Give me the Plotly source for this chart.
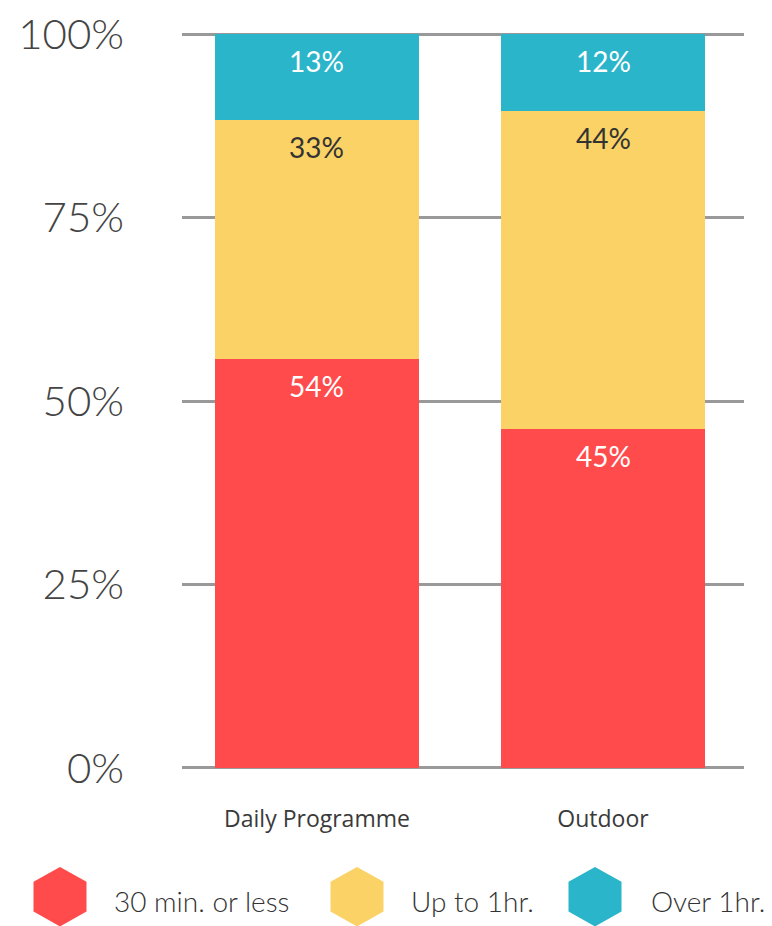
import numpy as np
import plotly.graph_objects as go

categories = ["Daily Programme", "Outdoor"]
series_names = ["30 min. or less", "Up to 1hr.", "Over 1hr."]
# bar heights (share of 100%)
short_vals = [55.7, 46.2]
mid_vals = [32.6, 43.3]
long_vals = [11.7, 10.5]
# printed labels
short_labels = ["54%", "45%"]
mid_labels = ["33%", "44%"]
long_labels = ["13%", "12%"]
y_ticks = [0, 25, 50, 75, 100]
y_tick_text = ["0%", "25%", "50%", "75%", "100%"]

colors = ["#FF4B4B", "#FAD266", "#2AB5CA"]
text_colors = ["#FFFFFF", "#333333", "#FFFFFF"]
FONT = "Lato, 'Open Sans', sans-serif"
CAT_FONT = "'Open Sans', Lato, sans-serif"

values = [short_vals, mid_vals, long_vals]
labels = [short_labels, mid_labels, long_labels]

OFF = 8  # page body margin
W, H = 772 - OFF, 926 - OFF
PAD = 0.3
px_per_unit = (768 - 34) / 100.0
plot_l = 182 - OFF
plot_r = 744 - OFF
plot_t = 34 - OFF - PAD * px_per_unit
plot_b = 768 - OFF + PAD * px_per_unit
pw, ph = plot_r - plot_l, plot_b - plot_t

fig = go.Figure()
for name, vals, col in zip(series_names, values, colors):
    fig.add_trace(go.Bar(
        x=categories, y=vals, name=name, marker=dict(color=col, line=dict(width=0)),
        width=0.713, showlegend=False, hoverinfo="skip",
    ))

tops = np.cumsum(np.array(values), axis=0)
annotations = []
for si in range(len(values)):
    for ci, cat in enumerate(categories):
        annotations.append(dict(
            x=cat, y=min(float(tops[si][ci]), 100.0), xref="x", yref="y",
            text=labels[si][ci], showarrow=False, yanchor="middle",
            yshift=-27, font=dict(family=FONT, size=28, color=text_colors[si], weight=400),
        ))

# custom legend: hexagon markers + text, below the plot
legend_x_px = [60, 357, 595]
legend_text_px = [112, 409, 649]
leg_y_px = 897 - OFF
leg_y = (plot_b - leg_y_px) / ph
hexpath = "M0,-28 L25,-14 L25,14 L0,28 L-25,14 L-25,-14 Z"
shapes = []
for name, col, xp, tp in zip(series_names, colors, legend_x_px, legend_text_px):
    shapes.append(dict(
        type="path", xref="paper", yref="paper", xsizemode="pixel", ysizemode="pixel",
        xanchor=(xp - OFF - plot_l) / pw, yanchor=leg_y, path=hexpath,
        fillcolor=col, line=dict(color=col, width=3), layer="above",
    ))
    annotations.append(dict(
        x=(tp - OFF - plot_l) / pw, y=leg_y, xref="paper", yref="paper", xanchor="left",
        yanchor="middle", yshift=-4, text=name, showarrow=False,
        font=dict(family=FONT, size=28, color="#333333", weight=300),
    ))

fig.update_layout(
    width=W, height=H, barmode="stack", bargap=0,
    margin=dict(l=plot_l, r=W - plot_r, t=plot_t, b=H - plot_b, pad=0, autoexpand=False),
    paper_bgcolor="white", plot_bgcolor="white",
    font=dict(family=FONT, color="#333333"),
    annotations=annotations, shapes=shapes,
    xaxis=dict(type="category", range=[-0.472, 1.493], showgrid=False, zeroline=False,
               showline=False, ticks="", automargin=False,
               tickfont=dict(family=CAT_FONT, size=23, color="#3a3a3a", weight=400),
               ticklabelstandoff=33),
    yaxis=dict(range=[-PAD, 100 + PAD], tickvals=y_ticks, ticktext=y_tick_text,
               showgrid=True, gridcolor="#999999", gridwidth=3, zeroline=False,
               showline=False, ticks="", automargin=False, ticklabeloverflow="allow",
               ticklabelstandoff=57, ticklabelshift=0,
               tickfont=dict(size=42, color="#444444", weight=300)),
)

fig.write_html("out.html")
